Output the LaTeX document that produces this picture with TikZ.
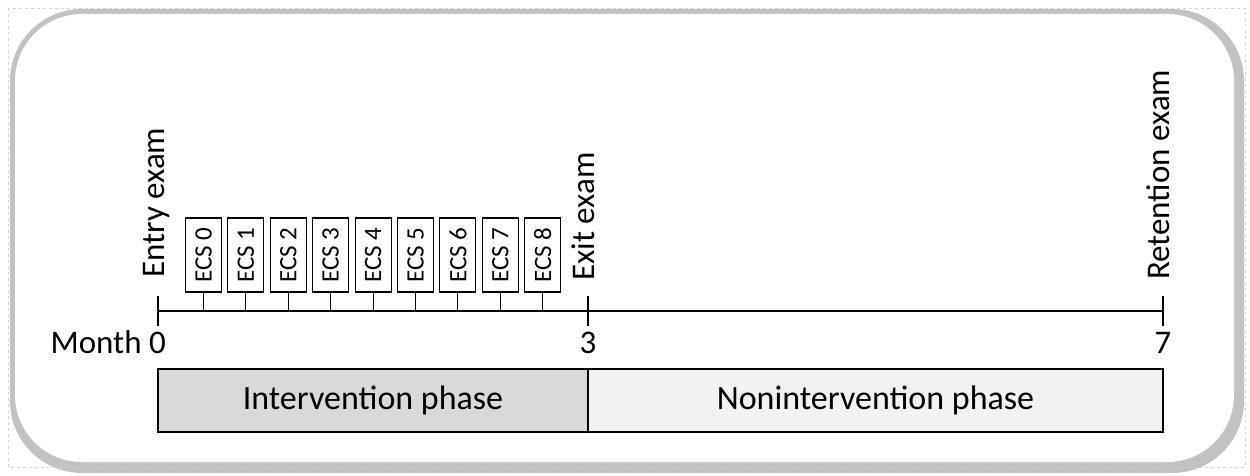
\documentclass[tikz,border=0pt]{standalone}
\usepackage{fontspec}
\setmainfont{Carlito}
\definecolor{framegray}{HTML}{C2C2C2}
\definecolor{ivfill}{HTML}{D9D9D9}
\definecolor{nivfill}{HTML}{F2F2F2}
\definecolor{selblue}{HTML}{C8D6E6}
\begin{document}
\begin{tikzpicture}[x=1pt,y=-1pt,
  lbl/.style={font=\fontsize{33}{40}\selectfont, inner sep=0pt},
  vlbl/.style={lbl, rotate=90, anchor=base west},
  ecsbox/.style={draw, line width=1.1pt, rotate=90, minimum width=74pt, minimum height=36pt, inner sep=0pt, font=\fontsize{25}{30}\selectfont},
  phase/.style={draw, line width=1.3pt, minimum height=63pt, inner sep=0pt, font=\fontsize{34}{40}\selectfont},
  axisline/.style={line width=1.4pt},
  stem/.style={line width=1.1pt}]
\useasboundingbox (0,0) rectangle (1250,476);
% frame
\fill[framegray, rounded corners=72pt] (10,9) rectangle (1244,473);
\fill[white, rounded corners=67pt] (15,14) rectangle (1234,462);
\draw[selblue, dashed, line width=0.6pt] (8,8) rectangle (1245,467);
% axis
\coordinate (a0) at (158,311);
\coordinate (a3) at (588,311);
\coordinate (a7) at (1163,311);
\draw[axisline] (a0) -- (a7);
\foreach \c in {a0,a3,a7}{
  \draw[axisline] ([yshift=15pt]\c) -- ([yshift=-15pt]\c);
}
% ECS boxes
\foreach \i in {0,...,8}{
  \node[ecsbox] (e\i) at ({203.5+42.4*\i},255) {ECS \i};
  \draw[stem] (e\i.west) -- (e\i.west |- a0);
}
% vertical labels
\node[vlbl] (entry) at (164,278) {Entry exam};
\node[vlbl] (exit) at (594,281) {Exit exam};
\node[vlbl] (ret) at (1169,280) {Retention exam};
% month labels
\node[lbl, anchor=base east] (m0) at (166,353) {Month 0};
\node[lbl, anchor=base] (m3) at (588,353) {3};
\node[lbl, anchor=base] (m7) at (1163,353) {7};
% phases
\node[phase, fill=ivfill, minimum width=430pt] (ip) at (373,400.5) {Intervention phase};
\node[phase, fill=nivfill, minimum width=575pt] (np) at (875.5,400.5) {Nonintervention phase};
\end{tikzpicture}
\end{document}
